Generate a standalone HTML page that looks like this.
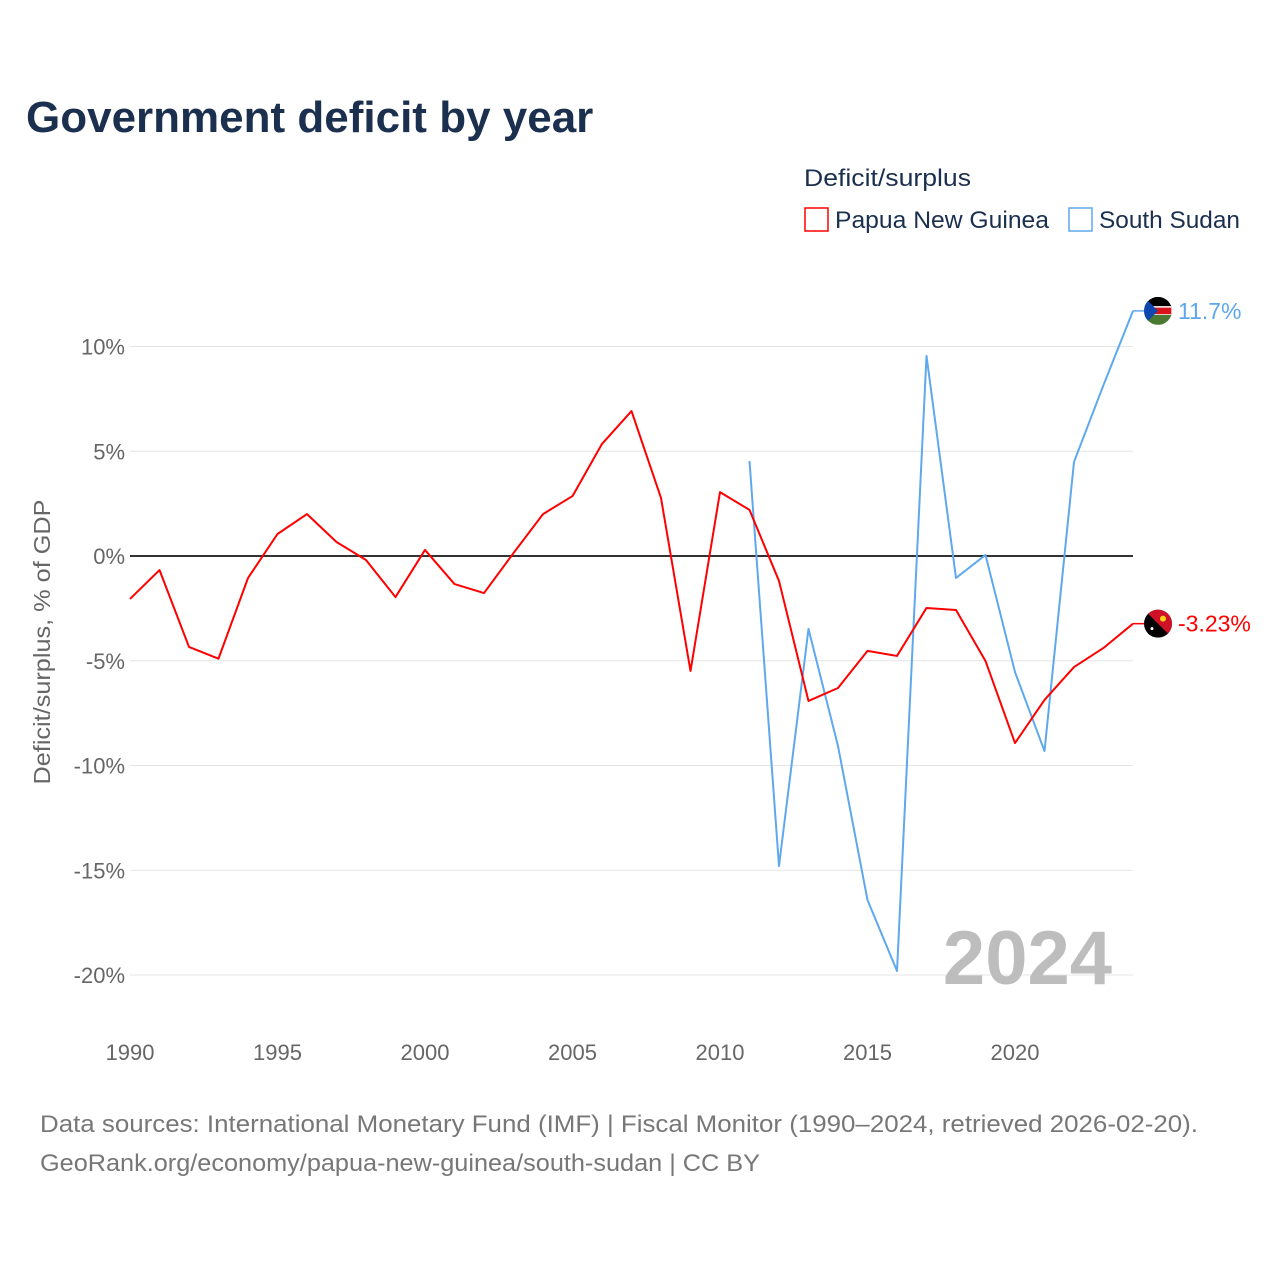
<!DOCTYPE html>
<html><head><meta charset="utf-8">
<style>
html,body{margin:0;padding:0;background:#fff;}
body{width:1280px;height:1280px;overflow:hidden;font-family:"Liberation Sans",sans-serif;}
svg text{font-family:"Liberation Sans",sans-serif;}
</style></head>
<body>
<svg id="chart" width="1280" height="1280" viewBox="0 0 1280 1280" xmlns="http://www.w3.org/2000/svg">
<text x="26" y="132" font-size="44" font-weight="bold" fill="#1b2f4e">Government deficit by year</text>
<text x="804" y="186" font-size="24" fill="#1b2f4e" textLength="167" lengthAdjust="spacingAndGlyphs">Deficit/surplus</text>
<g>
<rect x="805" y="208" width="23" height="23" fill="#fff" stroke="#ff0000" stroke-width="1.5"/>
<text x="835" y="228" font-size="24" fill="#1b2f4e" textLength="214" lengthAdjust="spacingAndGlyphs">Papua New Guinea</text></g>
<g>
<rect x="1069" y="208" width="23" height="23" fill="#fff" stroke="#5ea8ee" stroke-width="1.5"/>
<text x="1099" y="228" font-size="24" fill="#1b2f4e" textLength="141" lengthAdjust="spacingAndGlyphs">South Sudan</text></g>
<text transform="translate(50,642) rotate(-90)" text-anchor="middle" font-size="23" fill="#666" textLength="285" lengthAdjust="spacingAndGlyphs">Deficit/surplus, % of GDP</text>
<g id="grid"></g>
<g id="xt"></g>
<text x="1112" y="984" text-anchor="end" font-size="76" font-weight="bold" fill="#bdbdbd">2024</text>
<g id="series"></g>
<text x="40" y="1132" font-size="24" fill="#777" textLength="1158" lengthAdjust="spacingAndGlyphs">Data sources: International Monetary Fund (IMF) | Fiscal Monitor (1990–2024, retrieved 2026-02-20).</text>
<text x="40" y="1171" font-size="24" fill="#777" textLength="720" lengthAdjust="spacingAndGlyphs">GeoRank.org/economy/papua-new-guinea/south-sudan | CC BY</text>
</svg>
<script>
const yTicks=[10,5,0,-5,-10,-15,-20];
const yTickLabels=["10%","5%","0%","-5%","-10%","-15%","-20%"];
const xTicks=[1990,1995,2000,2005,2010,2015,2020];
const pngYears=[1990,1991,1992,1993,1994,1995,1996,1997,1998,1999,2000,2001,2002,2003,2004,2005,2006,2007,2008,2009,2010,2011,2012,2013,2014,2015,2016,2017,2018,2019,2020,2021,2022,2023,2024];
const pngValues=[-2.05,-0.67,-4.34,-4.9,-1.05,1.05,2.0,0.67,-0.19,-1.96,0.29,-1.34,-1.77,0.14,2.0,2.86,5.35,6.92,2.77,-5.49,3.05,2.2,-1.19,-6.92,-6.3,-4.53,-4.77,-2.48,-2.58,-5.01,-8.93,-6.87,-5.3,-4.39,-3.23];
const ssdYears=[2011,2012,2013,2014,2015,2016,2017,2018,2019,2020,2021,2022,2023,2024];
const ssdValues=[4.53,-14.8,-3.48,-9.07,-16.42,-19.81,9.55,-1.05,0.05,-5.54,-9.31,4.49,8.16,11.7];

const NS="http://www.w3.org/2000/svg";
const X=y=>130+(y-1990)*(1133-130)/34;
const Y=v=>556-v*20.95;
function mk(tag,attrs,parent){const e=document.createElementNS(NS,tag);for(const k in attrs)e.setAttribute(k,attrs[k]);parent.appendChild(e);return e;}
const grid=document.getElementById('grid');
yTicks.forEach((t,i)=>{
 const l=mk('line',{x1:130,x2:1133,y1:Y(t),y2:Y(t),stroke:t===0?'#333':'#e6e6e6','stroke-width':t===0?2:1},grid);
 
 
 const tx=mk('text',{x:125,y:Y(t)+8,'text-anchor':'end','font-size':22,fill:'#666'},grid);
 tx.textContent=yTickLabels[i];
 
 
});
const xt=document.getElementById('xt');
xTicks.forEach(t=>{
 const tx=mk('text',{x:X(t),y:1060,'text-anchor':'middle','font-size':22,fill:'#666'},xt);
 tx.textContent=t;
 
 
});
const g=document.getElementById('series');
function line(years,vals,color,name){
 const p=mk('polyline',{points:years.map((y,i)=>X(y)+','+Y(vals[i])).join(' '),fill:'none',stroke:color,'stroke-width':2,'stroke-linejoin':'round'},g);
 
 
}
line(ssdYears,ssdValues,'#5ea8ee','south-sudan-line');
line(pngYears,pngValues,'#ff0000','papua-new-guinea-line');
function endLabel(years,vals,color,name,flag){
 const x=X(years[years.length-1]),y=Y(vals[vals.length-1]);
 const fg=mk('g',{},g);
 
 
 const cx=x+25;
 const cpath=mk('clipPath',{id:'c'+name},fg);
 mk('circle',{cx:cx,cy:y,r:14},cpath);
 const inner=mk('g',{'clip-path':'url(#c'+name+')'},fg);
 flag(inner,cx,y);
 const t=mk('text',{x:x+45,y:y+8,'font-size':23,fill:color},g);
 t.textContent=vals[vals.length-1]+'%';
 
 
 mk('line',{x1:x,x2:x+11,y1:y,y2:y,stroke:color,'stroke-width':1.5},g);
}
endLabel(ssdYears,ssdValues,'#5ea8ee','south-sudan',(p,cx,cy)=>{
 mk('rect',{x:cx-14,y:cy-14,width:28,height:10,fill:'#000'},p);
 mk('rect',{x:cx-14,y:cy-4,width:28,height:8,fill:'#da121a',stroke:'#fff','stroke-width':1.5},p);
 mk('rect',{x:cx-14,y:cy+4,width:28,height:10,fill:'#4a7a32'},p);
 mk('polygon',{points:`${cx-14},${cy-14} ${cx},${cy} ${cx-14},${cy+14}`,fill:'#0f47af'},p);
});
endLabel(pngYears,pngValues,'#ff0000','papua-new-guinea',(p,cx,cy)=>{
 mk('rect',{x:cx-14,y:cy-14,width:28,height:28,fill:'#000'},p);
 mk('polygon',{points:`${cx-14},${cy-14} ${cx+14},${cy-14} ${cx+14},${cy+14}`,fill:'#ce1126'},p);
 mk('circle',{cx:cx+5,cy:cy-5,r:3,fill:'#fcd116'},p);
 mk('circle',{cx:cx-6,cy:cy+5,r:1.5,fill:'#fff'},p);
});
</script>
</body></html>
